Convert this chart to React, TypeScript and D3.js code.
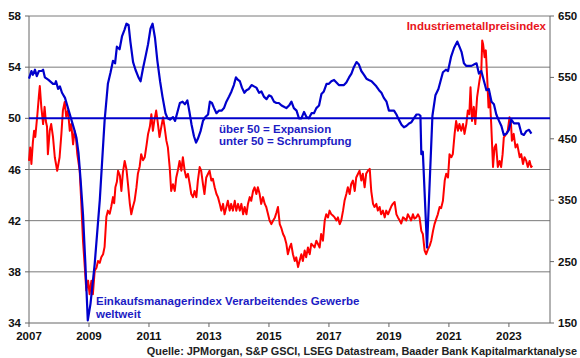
import React from 'react';
import * as d3 from 'd3';

// Einkaufsmanagerindex (linke Achse), [Jahr, Wert]
const pmiSeries: [number, number][] = [
  [2007.0, 53.1], [2007.08, 53.7], [2007.13, 53.4], [2007.2, 53.8], [2007.26, 53.3], [2007.33, 53.7],
  [2007.42, 53.7], [2007.47, 53.8], [2007.53, 53.2], [2007.65, 53.0], [2007.8, 52.7], [2007.87, 52.7],
  [2007.9, 52.9], [2007.97, 52.3], [2008.03, 52.5], [2008.1, 52.0], [2008.2, 51.6], [2008.3, 50.8],
  [2008.4, 50.0], [2008.5, 49.2], [2008.58, 48.5], [2008.65, 47.3], [2008.72, 45.2], [2008.8, 42.5],
  [2008.88, 38.6], [2008.96, 34.2], [2009.05, 35.5], [2009.19, 38.6], [2009.36, 43.6], [2009.52, 49.8],
  [2009.63, 52.7], [2009.72, 53.6], [2009.8, 54.5], [2009.87, 54.3], [2009.93, 55.6], [2010.02, 55.4],
  [2010.1, 56.4], [2010.18, 56.9], [2010.25, 57.4], [2010.32, 57.3], [2010.38, 56.0], [2010.47, 54.4],
  [2010.55, 53.8], [2010.65, 53.2], [2010.72, 52.9], [2010.8, 53.9], [2010.9, 55.0], [2010.97, 55.8],
  [2011.05, 57.0], [2011.12, 57.4], [2011.2, 56.3], [2011.28, 54.5], [2011.37, 52.9], [2011.45, 51.7],
  [2011.55, 50.4], [2011.62, 50.0], [2011.7, 49.9], [2011.8, 50.1], [2011.87, 49.8], [2011.95, 50.5],
  [2012.03, 51.2], [2012.12, 51.3], [2012.2, 51.1], [2012.28, 51.4], [2012.35, 50.5], [2012.42, 49.5],
  [2012.5, 48.6], [2012.57, 48.1], [2012.63, 48.4], [2012.72, 49.0], [2012.8, 49.8], [2012.88, 50.1],
  [2012.97, 50.3], [2013.03, 51.3], [2013.1, 51.2], [2013.17, 50.8], [2013.25, 50.4], [2013.33, 50.6],
  [2013.42, 50.6], [2013.5, 50.8], [2013.58, 51.3], [2013.67, 51.7], [2013.75, 52.1], [2013.83, 52.6],
  [2013.9, 53.2], [2013.97, 53.0], [2014.03, 52.9], [2014.1, 52.4], [2014.18, 52.0], [2014.25, 52.2],
  [2014.33, 52.3], [2014.42, 52.6], [2014.5, 52.5], [2014.58, 52.4], [2014.67, 52.0], [2014.75, 52.1],
  [2014.83, 51.7], [2014.92, 51.5], [2015.0, 51.8], [2015.08, 51.7], [2015.17, 51.3], [2015.25, 51.2],
  [2015.33, 51.2], [2015.42, 51.0], [2015.5, 50.9], [2015.58, 50.8], [2015.67, 51.0], [2015.75, 51.3],
  [2015.83, 50.8], [2015.92, 50.6], [2016.0, 50.0], [2016.08, 50.0], [2016.17, 50.5], [2016.25, 50.1],
  [2016.33, 50.0], [2016.42, 50.4], [2016.5, 50.4], [2016.58, 50.8], [2016.67, 51.0], [2016.75, 51.9],
  [2016.83, 52.1], [2016.92, 52.7], [2017.0, 52.7], [2017.08, 52.9], [2017.17, 53.0], [2017.25, 52.8],
  [2017.33, 52.6], [2017.42, 52.6], [2017.5, 52.6], [2017.58, 52.8], [2017.67, 53.2], [2017.75, 53.5],
  [2017.83, 54.0], [2017.92, 54.4], [2018.0, 54.2], [2018.08, 53.7], [2018.17, 53.4], [2018.25, 53.1],
  [2018.33, 53.0], [2018.42, 52.9], [2018.5, 52.7], [2018.58, 52.5], [2018.67, 52.2], [2018.75, 52.0],
  [2018.83, 51.6], [2018.92, 51.3], [2019.0, 50.6], [2019.08, 50.6], [2019.17, 50.6], [2019.25, 50.3],
  [2019.33, 49.9], [2019.42, 49.5], [2019.5, 49.3], [2019.58, 49.4], [2019.67, 49.6], [2019.75, 49.7],
  [2019.83, 50.0], [2019.92, 50.3], [2020.0, 50.3], [2020.05, 50.2], [2020.08, 47.2], [2020.13, 47.4],
  [2020.27, 39.9], [2020.35, 44.5], [2020.45, 50.2], [2020.55, 51.8], [2020.65, 52.3], [2020.73, 53.0],
  [2020.8, 53.6], [2020.9, 53.8], [2020.97, 53.7], [2021.07, 54.8], [2021.17, 55.5], [2021.28, 56.0],
  [2021.35, 55.6], [2021.42, 55.2], [2021.5, 54.3], [2021.58, 54.1], [2021.67, 54.1], [2021.75, 54.1],
  [2021.83, 54.2], [2021.92, 54.3], [2022.0, 53.5], [2022.08, 53.7], [2022.17, 52.9], [2022.25, 52.2],
  [2022.33, 52.3], [2022.42, 51.3], [2022.5, 51.1], [2022.58, 50.3], [2022.67, 49.8], [2022.75, 49.4],
  [2022.83, 48.7], [2022.92, 48.8], [2023.0, 49.1], [2023.08, 49.9], [2023.17, 49.6], [2023.25, 49.6],
  [2023.33, 49.6], [2023.42, 48.8], [2023.5, 48.7], [2023.58, 49.0], [2023.67, 49.1], [2023.75, 48.8],
];

// Industriemetallpreisindex (rechte Achse), [Jahr, Wert]
const metalSeries: [number, number][] = [
  [2007.0, 414], [2007.04, 436], [2007.08, 409], [2007.13, 445], [2007.17, 463], [2007.21, 453],
  [2007.28, 490], [2007.33, 520], [2007.36, 536], [2007.41, 502], [2007.47, 474], [2007.52, 502],
  [2007.56, 479], [2007.6, 470], [2007.63, 425], [2007.69, 463], [2007.74, 474], [2007.8, 453],
  [2007.86, 420], [2007.94, 398], [2008.02, 420], [2008.08, 458], [2008.13, 496], [2008.19, 510],
  [2008.24, 486], [2008.3, 496], [2008.36, 463], [2008.41, 474], [2008.47, 441], [2008.52, 463],
  [2008.57, 450], [2008.61, 425], [2008.69, 398], [2008.74, 349], [2008.8, 284], [2008.86, 241],
  [2008.91, 203], [2008.97, 219], [2009.02, 197], [2009.08, 219], [2009.13, 197], [2009.19, 235],
  [2009.25, 240], [2009.3, 251], [2009.36, 248], [2009.41, 257], [2009.47, 262], [2009.52, 274],
  [2009.58, 323], [2009.63, 333], [2009.69, 328], [2009.74, 339], [2009.8, 355], [2009.84, 345],
  [2009.88, 371], [2009.93, 380], [2009.97, 398], [2010.03, 390], [2010.08, 365], [2010.13, 395],
  [2010.19, 414], [2010.25, 400], [2010.3, 376], [2010.36, 345], [2010.41, 327], [2010.47, 340],
  [2010.52, 349], [2010.58, 370], [2010.63, 393], [2010.69, 405], [2010.74, 425], [2010.8, 415],
  [2010.86, 420], [2010.92, 440], [2010.97, 458], [2011.03, 470], [2011.08, 490], [2011.13, 463],
  [2011.18, 480], [2011.24, 496], [2011.3, 474], [2011.35, 453], [2011.41, 469], [2011.47, 485],
  [2011.52, 469], [2011.58, 447], [2011.63, 436], [2011.69, 404], [2011.74, 365], [2011.8, 376],
  [2011.86, 365], [2011.91, 387], [2011.97, 400], [2012.02, 414], [2012.08, 398], [2012.13, 420],
  [2012.19, 398], [2012.24, 387], [2012.3, 393], [2012.36, 376], [2012.41, 360], [2012.47, 355],
  [2012.52, 365], [2012.58, 355], [2012.63, 382], [2012.69, 404], [2012.74, 398], [2012.8, 376],
  [2012.85, 360], [2012.91, 387], [2012.97, 393], [2013.02, 398], [2013.08, 382], [2013.13, 385],
  [2013.19, 371], [2013.25, 360], [2013.3, 355], [2013.36, 344], [2013.41, 333], [2013.47, 344],
  [2013.52, 327], [2013.58, 339], [2013.63, 349], [2013.69, 333], [2013.74, 344], [2013.8, 333],
  [2013.86, 349], [2013.91, 333], [2013.97, 344], [2014.03, 333], [2014.08, 344], [2014.14, 327],
  [2014.19, 339], [2014.25, 327], [2014.3, 344], [2014.36, 355], [2014.41, 349], [2014.47, 365],
  [2014.52, 371], [2014.58, 360], [2014.63, 371], [2014.69, 360], [2014.74, 344], [2014.8, 355],
  [2014.86, 344], [2014.91, 339], [2014.97, 327], [2015.02, 317], [2015.08, 311], [2015.14, 317],
  [2015.2, 322], [2015.25, 330], [2015.3, 339], [2015.36, 311], [2015.41, 305], [2015.47, 295],
  [2015.52, 290], [2015.58, 279], [2015.63, 262], [2015.69, 273], [2015.74, 279], [2015.8, 262],
  [2015.86, 251], [2015.91, 257], [2015.97, 241], [2016.02, 251], [2016.08, 262], [2016.13, 251],
  [2016.19, 268], [2016.24, 257], [2016.3, 273], [2016.36, 262], [2016.41, 279], [2016.47, 276],
  [2016.52, 273], [2016.58, 284], [2016.63, 279], [2016.69, 273], [2016.74, 295], [2016.8, 284],
  [2016.86, 317], [2016.91, 327], [2016.97, 322], [2017.02, 333], [2017.08, 327], [2017.13, 325],
  [2017.19, 322], [2017.25, 317], [2017.3, 322], [2017.36, 311], [2017.41, 317], [2017.47, 333],
  [2017.52, 349], [2017.58, 360], [2017.63, 371], [2017.69, 360], [2017.74, 376], [2017.8, 382],
  [2017.86, 365], [2017.91, 387], [2017.97, 393], [2018.02, 398], [2018.08, 382], [2018.13, 393],
  [2018.19, 371], [2018.24, 393], [2018.3, 398], [2018.36, 401], [2018.41, 365], [2018.47, 344],
  [2018.52, 339], [2018.58, 344], [2018.63, 333], [2018.69, 339], [2018.74, 327], [2018.8, 333],
  [2018.86, 322], [2018.91, 333], [2018.97, 327], [2019.02, 333], [2019.08, 340], [2019.13, 344],
  [2019.19, 347], [2019.25, 327], [2019.3, 322], [2019.36, 317], [2019.41, 312], [2019.47, 322],
  [2019.52, 320], [2019.58, 317], [2019.63, 327], [2019.69, 322], [2019.74, 317], [2019.8, 327],
  [2019.85, 320], [2019.91, 322], [2019.97, 327], [2020.02, 322], [2020.08, 300], [2020.13, 295],
  [2020.19, 268], [2020.24, 262], [2020.3, 270], [2020.36, 276], [2020.41, 284], [2020.47, 300],
  [2020.52, 311], [2020.58, 320], [2020.63, 327], [2020.69, 339], [2020.74, 337], [2020.8, 349],
  [2020.86, 382], [2020.91, 393], [2020.97, 387], [2021.02, 425], [2021.08, 420], [2021.13, 425],
  [2021.19, 458], [2021.24, 479], [2021.3, 463], [2021.35, 474], [2021.41, 463], [2021.47, 474],
  [2021.52, 458], [2021.58, 474], [2021.63, 496], [2021.68, 490], [2021.72, 534], [2021.77, 479],
  [2021.83, 502], [2021.88, 474], [2021.94, 518], [2022.02, 545], [2022.08, 561], [2022.11, 610],
  [2022.14, 604], [2022.19, 583], [2022.23, 594], [2022.28, 545], [2022.32, 501], [2022.36, 523],
  [2022.41, 474], [2022.47, 404], [2022.52, 436], [2022.57, 441], [2022.63, 404], [2022.69, 414],
  [2022.74, 404], [2022.79, 425], [2022.83, 452], [2022.91, 458], [2022.96, 463], [2023.02, 485],
  [2023.07, 474], [2023.1, 447], [2023.16, 458], [2023.22, 436], [2023.28, 441], [2023.36, 420],
  [2023.41, 425], [2023.47, 409], [2023.52, 420], [2023.58, 414], [2023.63, 404], [2023.69, 414],
  [2023.74, 404], [2023.78, 406],
];

const leftTicks = [34, 38, 42, 46, 50, 54, 58];
const rightTicks = [150, 250, 350, 450, 550, 650];
const yearTicks = [2007, 2009, 2011, 2013, 2015, 2017, 2019, 2021, 2023];

const W = 580;
const H = 358;
const margin = { top: 16, right: 30, bottom: 35, left: 29 };
const font = '"Liberation Sans", Arial, sans-serif';

export default function App() {
  const x = d3.scaleLinear().domain([2007, 2024.37]).range([margin.left, W - margin.right]);
  const yL = d3.scaleLinear().domain([34, 58]).range([H - margin.bottom, margin.top]);
  const yR = d3.scaleLinear().domain([150, 650]).range([H - margin.bottom, margin.top]);

  const pmiLine = d3.line<[number, number]>().x((d) => x(d[0])).y((d) => yL(d[1]));
  const metalLine = d3.line<[number, number]>().x((d) => x(d[0])).y((d) => yR(d[1]));

  const x0 = x.range()[0];
  const x1 = x.range()[1];
  const yBottom = yL(34);

  return (
    <svg
      width={W}
      height={H}
      style={{ position: 'absolute', left: 0, top: 0, background: '#fff' }}
      fontFamily={font}
      fontWeight="bold"
    >
      {/* gridlines */}
      {leftTicks.filter((t) => t !== 34 && t !== 50).map((t) => (
        <line key={t} x1={x0} x2={x1} y1={yL(t)} y2={yL(t)} stroke="#7a7a7a" strokeWidth={1} />
      ))}

      {/* axes */}
      <line x1={x0} x2={x0} y1={yL(58)} y2={yBottom} stroke="#666" />
      <line x1={x1} x2={x1} y1={yL(58)} y2={yBottom} stroke="#666" />
      <line x1={x0} x2={x1} y1={yBottom} y2={yBottom} stroke="#666" />

      {leftTicks.map((t) => (
        <g key={t}>
          <line x1={x0 - 4} x2={x0} y1={yL(t)} y2={yL(t)} stroke="#666" />
          <text x={21} y={yL(t) + 4} textAnchor="end" fontSize={11.5} fill="#111">{t}</text>
        </g>
      ))}
      {rightTicks.map((t) => (
        <g key={t}>
          <line x1={x1} x2={x1 + 4} y1={yR(t)} y2={yR(t)} stroke="#666" />
          <text x={558} y={yR(t) + 4} fontSize={11.5} fill="#111">{t}</text>
        </g>
      ))}
      {yearTicks.map((t) => (
        <g key={t}>
          <line x1={x(t)} x2={x(t)} y1={yBottom} y2={yBottom + 4} stroke="#666" />
          <text x={x(t)} y={339.5} textAnchor="middle" fontSize={11.5} fill="#111">{t}</text>
        </g>
      ))}

      {/* series */}
      <path d={metalLine(metalSeries) || ''} fill="none" stroke="#ff0000" strokeWidth={2} strokeLinejoin="round" />
      <line x1={x0} x2={x1} y1={yL(50)} y2={yL(50)} stroke="#0000cc" strokeWidth={2} />
      <path d={pmiLine(pmiSeries) || ''} fill="none" stroke="#0000cc" strokeWidth={2.2} strokeLinejoin="round" />

      {/* annotations */}
      <text x={546} y={29.5} textAnchor="end" fontSize={11.5} fill="#e8141b">Industriemetallpreisindex</text>
      <text x={219} y={132.5} fontSize={11.5} fill="#1c1cc4">über 50 = Expansion</text>
      <text x={219} y={145} fontSize={11.5} fill="#1c1cc4">unter 50 = Schrumpfung</text>
      <text x={96} y={304.5} fontSize={11.5} fill="#1c1cc4">Einkaufsmanagerindex Verarbeitendes Gewerbe</text>
      <text x={96} y={318} fontSize={11.5} fill="#1c1cc4">weltweit</text>
      <text x={577} y={354.5} textAnchor="end" fontSize={10.9} fill="#222">
        Quelle: JPMorgan, S&amp;P GSCI, LSEG Datastream, Baader Bank Kapitalmarktanalyse
      </text>
    </svg>
  );
}
